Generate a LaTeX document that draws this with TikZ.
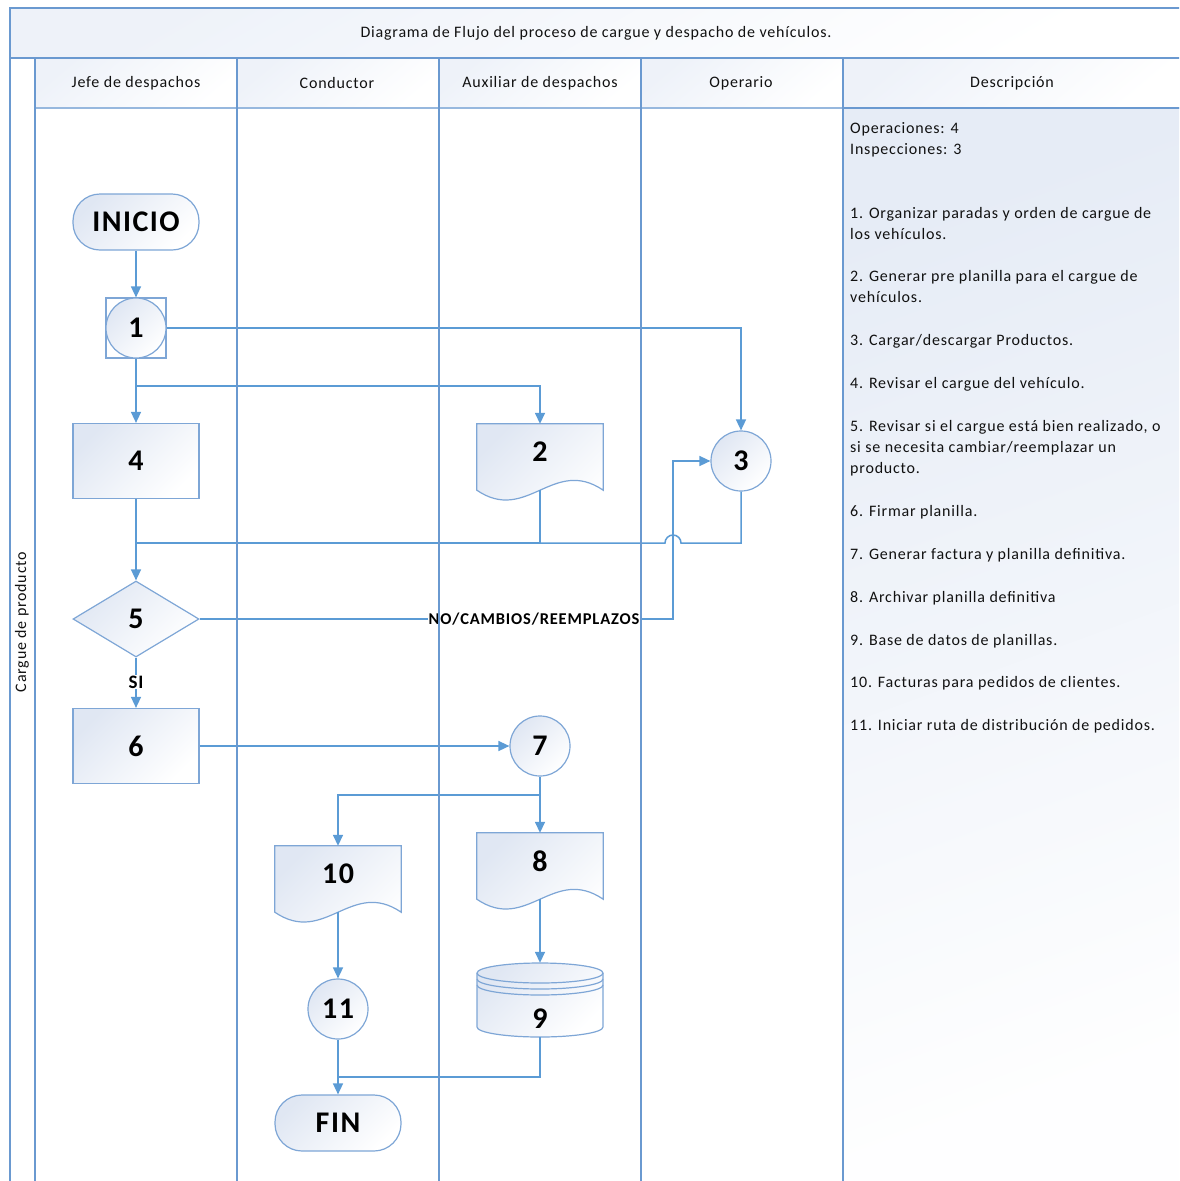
\documentclass[tikz,border=0pt]{standalone}
\usepackage{fontspec}
\setmainfont{Carlito}[LetterSpace=5]
\usetikzlibrary{arrows.meta,shapes.geometric,calc}

\definecolor{flowline}{HTML}{5B9BD5}
\definecolor{laneline}{HTML}{6A99D0}
\definecolor{nodeedge}{HTML}{7EA6D6}
\definecolor{nodetint}{HTML}{E0E7F3}
\definecolor{paneltint}{HTML}{E6ECF6}
\definecolor{headtint}{HTML}{EEF2F9}
\definecolor{inktext}{HTML}{111111}

\tikzset{
  txt/.style={font=\fontsize{16}{19}\selectfont, text=inktext, inner sep=0},
  numfont/.style={font=\fontsize{30}{34}\selectfont\bfseries, text=black},
  shadefill/.style={top color=nodetint, bottom color=white, shading angle=45},
  boxedge/.style={draw=nodeedge, line width=1.2},
  procbox/.style={rectangle, boxedge, shadefill, numfont, minimum width=126, minimum height=75, inner sep=0},
  termbox/.style={rectangle, rounded corners=27, boxedge, shadefill, numfont, minimum width=126, minimum height=56, inner sep=0},
  circbox/.style={circle, boxedge, shadefill, numfont, minimum size=60, inner sep=0},
  decbox/.style={diamond, boxedge, shadefill, numfont, minimum width=126, minimum height=76, inner sep=0},
  docarea/.style={rectangle, numfont, minimum width=126, minimum height=56, inner sep=0},
  flow/.style={draw=flowline, line width=1.5},
  tip/.style={-{Triangle[width=10pt,length=11pt]}},
  lane/.style={draw=laneline, line width=1.6},
  flowlabel/.style={font=\fontsize{16.5}{19}\selectfont\bfseries, text=black, fill=white, inner sep=1},
}

% document symbol with a wavy lower edge, drawn round a docarea node
\newcommand\docsymbol[1]{%
  \path[shadefill, boxedge]
    (#1.north west) -- (#1.north east) -- ($(#1.south east)+(0,10)$)
    .. controls ($(#1.south east)+(-50,-24)$) and ($(#1.south west)+(50,44)$) ..
    ($(#1.south west)+(0,10)$) -- cycle;
  \coordinate (#1out) at ($(#1.south)+(0,10)$);
}

\begin{document}
\begin{tikzpicture}[x=1pt,y=-1pt]
\useasboundingbox (0,0) rectangle (1179,1181);
\clip (0,0) rectangle (1179,1181);

% title bar and header row
\fill[top color=headtint, bottom color=white, shading angle=30] (10,8) rectangle (1179,58);
\foreach \a/\b in {35/237,237/439,439/641,641/843,843/1179}
  \fill[top color=headtint, bottom color=white, shading angle=40] (\a,58) rectangle (\b,108);
% description panel
\fill[top color=paneltint, bottom color=white!96!paneltint, shading angle=20] (843,108) rectangle (1179,1181);

% flow symbols
\node[termbox] (nInicio) at (136,222) {INICIO};
\node[rectangle, boxedge, fill=white, minimum size=60, inner sep=0] (n1box) at (136,328) {};
\node[circbox] (n1) at (136,328) {1};
\node[procbox] (n4) at (136,461) {4};
\node[docarea] (n2) at (540,452) {};
\docsymbol{n2}
\node[numfont] (n2t) at (540,452) {2};
\node[circbox] (n3) at (741,461) {3};
\node[decbox] (n5) at (136,619) {5};
\node[procbox] (n6) at (136,746) {6};
\node[circbox] (n7) at (540,746) {7};
\node[docarea] (n8) at (540,861) {};
\docsymbol{n8}
\node[numfont] (n8t) at (540,861) {8};
\node[docarea] (n10) at (338,874) {};
\docsymbol{n10}
\node[numfont] (n10t) at (338,874) {10};
\node[circbox] (n11) at (338,1009) {11};
\node[termbox] (nFin) at (338,1123) {FIN};

% database symbol
\node[rectangle, minimum width=126, minimum height=74, inner sep=0] (n9) at (540,1000) {};
\path[shadefill] (477,973) arc[start angle=180, end angle=0, x radius=63pt, y radius=10pt]
  -- (603,1027) arc[start angle=0, end angle=-180, x radius=63pt, y radius=10pt] -- cycle;
\draw[boxedge] (477,973) -- (477,1027) arc[start angle=180, end angle=360, x radius=63pt, y radius=10pt] -- (603,973);
\draw[boxedge] (540,973) ellipse[x radius=63pt, y radius=10pt];
\draw[boxedge] (477,979) arc[start angle=180, end angle=360, x radius=63pt, y radius=10pt];
\draw[boxedge] (477,985) arc[start angle=180, end angle=360, x radius=63pt, y radius=10pt];
\node[numfont] (n9t) at (540,1019) {9};

% junction points
\coordinate (b1) at (136,386);
\coordinate (m5) at (136,543);
\coordinate (jx) at (673,543);
\coordinate (b7) at (540,795);
\coordinate (m11) at (338,1077);

% connectors
\draw[flow, tip] (nInicio.south) -- (n1box.north);
\draw[flow, tip] (n1box.east) -| (n3.north);
\draw[flow, tip] (n1box.south) -- (n4.north);
\draw[flow, tip] (b1) -| (n2.north);
\draw[flow, tip] (n4.south) -- (n5.north);
\draw[flow] (n2out) |- (m5);
\draw[flow] (n3.south) |- ($(jx)+(8,0)$) arc[start angle=0, end angle=180, radius=8pt] -- (m5);
\draw[flow, tip] (n5.east) -| ($(jx |- n3.west)$) -- (n3.west);
\draw[flow, tip] (n5.south) -- (n6.north);
\draw[flow, tip] (n6.east) -- (n7.west);
\draw[flow, tip] (n7.south) -- (n8.north);
\draw[flow, tip] (b7) -| (n10.north);
\draw[flow, tip] (n8out) -- (n9.north);
\draw[flow, tip] (n10out) -- (n11.north);
\draw[flow, tip] (n11.south) -- (nFin.north);
\draw[flow] (n9.south) |- (m11);
\node[flowlabel] (lno) at (534,619) {NO/CAMBIOS/REEMPLAZOS};
\node[flowlabel, font=\fontsize{19}{22}\selectfont\bfseries] (lsi) at (136,682) {SI};

% swimlane frame
\draw[lane] (1190,8) -- (10,8) -- (10,1190);
\draw[lane] (10,58) -- (1190,58);
\draw[lane, draw=laneline!70] (35,108) -- (1190,108);
\draw[lane] (843,108) -- (1190,108);
\foreach \x in {35,237,439,641,843}
  \draw[lane] (\x,58) -- (\x,1190);

% captions
\node[txt] (title) at (596,33) {Diagrama de Flujo del proceso de cargue y despacho de vehículos.};
\node[txt] (h1) at (136,83) {Jefe de despachos};
\node[txt] (h2) at (337,83) {Conductor};
\node[txt] (h3) at (540,83) {Auxiliar de despachos};
\node[txt] (h4) at (741,83) {Operario};
\node[txt] (h5) at (1012,83) {Descripción};
\node[txt, rotate=90] (phase) at (22,622) {Cargue de producto};

% description column
\foreach \t/\y [count=\i] in {
  {Operaciones: 4}/128,
  {Inspecciones: 3}/149,
  {1. Organizar paradas y orden de cargue de}/213,
  {los vehículos.}/234,
  {2. Generar pre planilla para el cargue de}/276,
  {vehículos.}/297,
  {3. Cargar/descargar Productos.}/340,
  {4. Revisar el cargue del vehículo.}/383,
  {5. Revisar si el cargue está bien realizado, o}/426,
  {si se necesita cambiar/reemplazar un}/447,
  {producto.}/468,
  {6. Firmar planilla.}/511,
  {7. Generar factura y planilla definitiva.}/554,
  {8. Archivar planilla definitiva}/597,
  {9. Base de datos de planillas.}/640,
  {10. Facturas para pedidos de clientes.}/682,
  {11. Iniciar ruta de distribución de pedidos.}/725}
  \node[txt, anchor=base west] (desc\i) at (850,\y+5) {\t};
\end{tikzpicture}
\end{document}
